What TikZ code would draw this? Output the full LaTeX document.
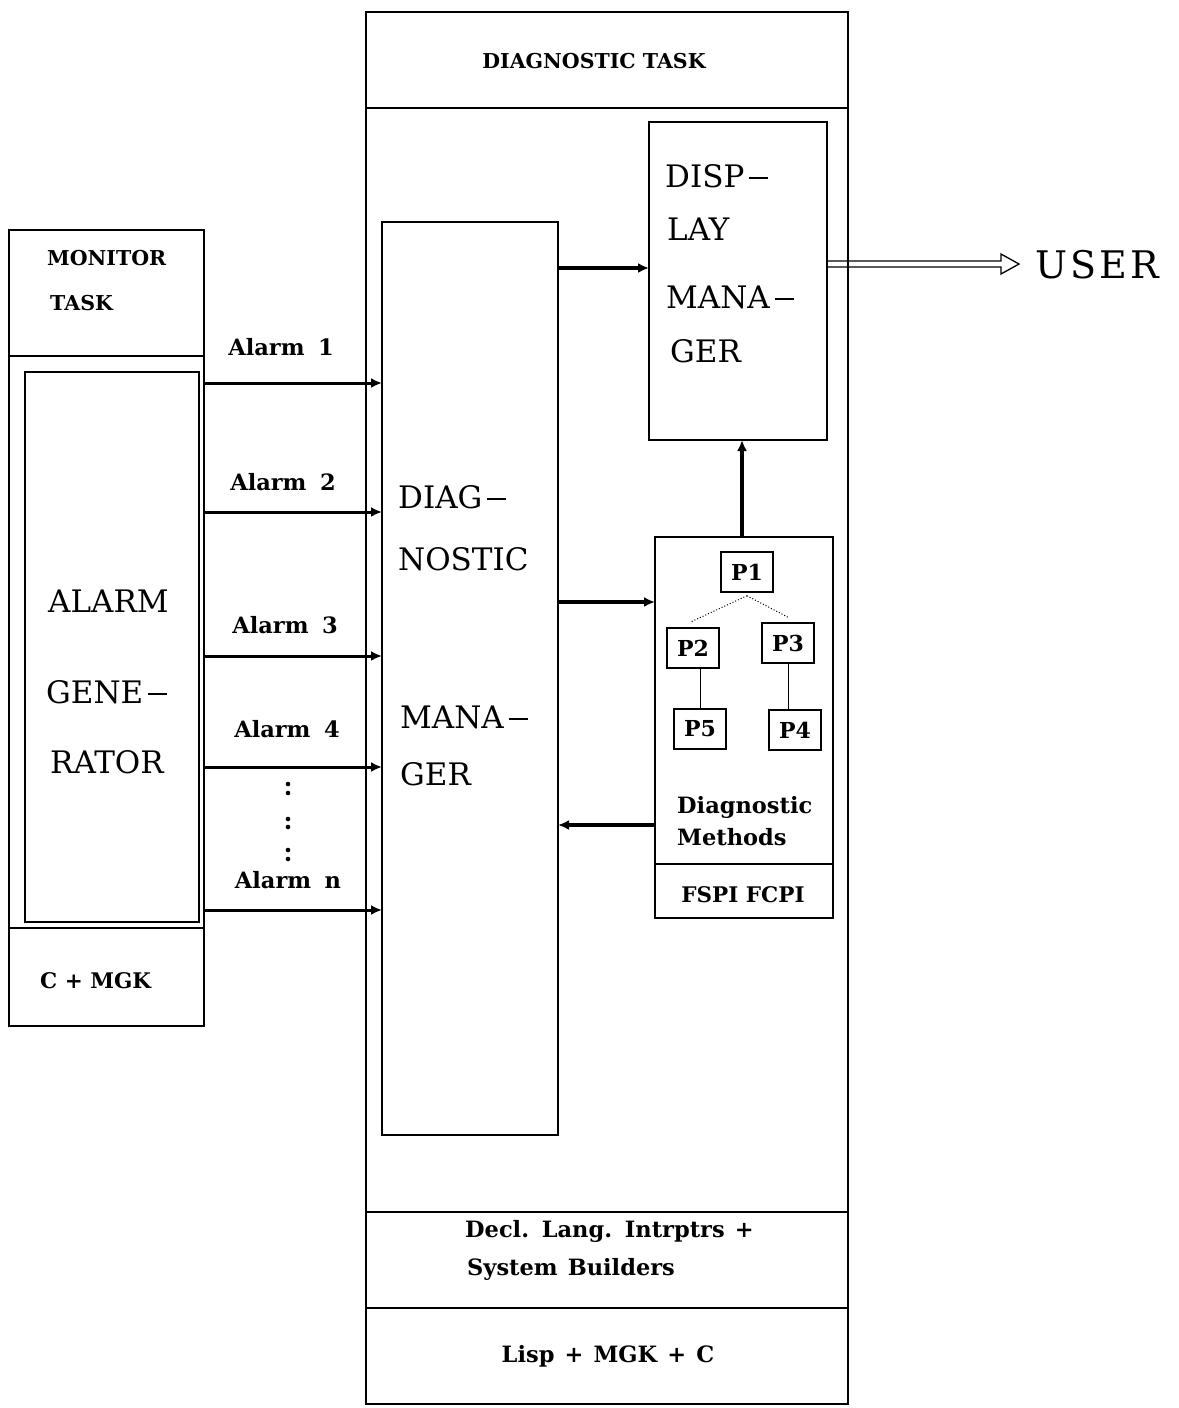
\documentclass[tikz,border=0pt]{standalone}
\usepackage{fontspec}
\setmainfont{DejaVu Serif}
\usetikzlibrary{arrows.meta}
\newcommand{\bdash}{\hspace{5pt}\rule[8.5pt]{19pt}{2pt}}
\newcommand{\smlfont}{\fontsize{22.5}{26}\selectfont\bfseries\spaceskip=0.45em plus 0.1em\relax}
\begin{document}
\begin{tikzpicture}[x=1pt,y=-1pt,
  box/.style={draw, line width=2.5pt, inner sep=0pt, outer sep=0pt, anchor=north west},
  sm/.style={font=\fontsize{20.5}{24}\selectfont\bfseries, inner sep=0pt},
  smc/.style={font=\fontsize{21.5}{24}\selectfont\bfseries, inner sep=0pt},
  sml/.style={font=\smlfont, inner sep=0pt},
  bg/.style={font=\fontsize{31}{36}\selectfont, inner sep=0pt},
  arr/.style={line width=3pt, -{Latex[length=11pt,width=10pt]}},
  pbox/.style={draw, line width=1.5pt, minimum width=52pt, minimum height=40pt, inner sep=0pt, font=\fontsize{22}{24}\selectfont\bfseries},
  thin/.style={line width=1pt}]
\useasboundingbox (0,0) rectangle (1178,1408);
% Diagnostic task column
\node[box, minimum width=482pt, minimum height=96pt]  (dthead) at (366,12) {};
\node[box, minimum width=482pt, minimum height=1104pt] (dtbody) at (366,108) {};
\node[box, minimum width=482pt, minimum height=96pt]  (dtdecl) at (366,1212) {};
\node[box, minimum width=482pt, minimum height=96pt]  (dtlisp) at (366,1308) {};
\node[sm, anchor=base] (dtlab) at (594,68) {DIAGNOSTIC TASK};
\node[sml, anchor=base west] (decl1) at (465,1237) {Decl. Lang. Intrptrs +};
\node[sml, anchor=base west] (decl2) at (467,1275) {System Builders};
\node[sml, anchor=base] (lisp) at (608,1362) {Lisp + MGK + C};
% Monitor task column
\node[box, minimum width=195pt, minimum height=126pt] (mthead) at (9,230) {};
\node[box, minimum width=195pt, minimum height=572pt] (mtbody) at (9,356) {};
\node[box, minimum width=174pt, minimum height=550pt] (agbox) at (25,372) {};
\node[box, minimum width=195pt, minimum height=98pt]  (cmgk) at (9,928) {};
\node[sm, anchor=base west] (mon1) at (47,265) {MONITOR};
\node[sm, anchor=base west] (mon2) at (50,310) {TASK};
\node[smc, anchor=base west] (cmgklab) at (40,988) {C + MGK};
\node[bg, anchor=base west] (ag1) at (48,612) {ALARM};
\node[bg, anchor=base west] (ag2) at (46,703) {GENE\bdash};
\node[bg, anchor=base west] (ag3) at (50,773) {RATOR};
% Diagnostic manager
\node[box, minimum width=176pt, minimum height=913pt] (dm) at (382,222) {};
\node[bg, anchor=base west] (dm1) at (398,508) {DIAG\bdash};
\node[bg, anchor=base west] (dm2) at (398,570) {NOSTIC};
\node[bg, anchor=base west] (dm3) at (400,728) {MANA\bdash};
\node[bg, anchor=base west] (dm4) at (400,785) {GER};
% Display manager
\node[box, minimum width=178pt, minimum height=318pt] (disp) at (649,122) {};
\node[bg, anchor=base west] (dp1) at (665,187) {DISP\bdash};
\node[bg, anchor=base west] (dp2) at (667,240) {LAY};
\node[bg, anchor=base west] (dp3) at (666,308) {MANA\bdash};
\node[bg, anchor=base west] (dp4) at (670,362) {GER};
% Diagnostic methods
\node[box, minimum width=178pt, minimum height=327pt] (meth) at (655,537) {};
\node[box, minimum width=178pt, minimum height=54pt]  (fspi) at (655,864) {};
\node[sml, anchor=base west] (meth1) at (677,813) {Diagnostic};
\node[sml, anchor=base west] (meth2) at (677,845) {Methods};
\node[smc, anchor=base] (fspilab) at (743,902) {FSPI FCPI};
\node[pbox] (P1) at (747,572) {P1};
\node[pbox] (P2) at (693,648) {P2};
\node[pbox] (P3) at (788,643) {P3};
\node[pbox] (P5) at (700,729) {P5};
\node[pbox] (P4) at (795,730) {P4};
\draw[thin, dotted] ([yshift=-3pt]P1.south) -- ([yshift=5pt,xshift=-3pt]P2.north);
\draw[thin, dotted] ([yshift=-3pt]P1.south) -- ([yshift=5pt]P3.north);
\draw[thin] (P5.north |- P2.south) -- (P5.north);
\draw[thin] (P3.south) -- (P3.south |- P4.north);
% Alarm connectors
\foreach \yy/\lab/\lx/\ly in {383/1/281/355, 512/2/283/490, 656/3/285/633, 767/4/287/737, 910/n/288/888}{
  \coordinate (ay\lab) at (0,\yy);
  \draw[arr] (mtbody.east |- ay\lab) -- (dm.west |- ay\lab);
  \node[sml, anchor=base] (al\lab) at (\lx,\ly) {Alarm\hspace{0.6em}\lab};
}
\foreach \yy in {784,793,819,827,850,859}{ \fill (288,\yy) circle (2.3pt); }
% Internal connectors
\coordinate (c1) at (0,268);
\coordinate (c2) at (0,602);
\coordinate (c3) at (0,825);
\coordinate (c4) at (742,0);
\draw[arr, line width=3.5pt] (dm.east |- c1) -- (disp.west |- c1);
\draw[arr, line width=3.5pt] (dm.east |- c2) -- (meth.west |- c2);
\draw[arr, line width=3.5pt] (meth.west |- c3) -- (dm.east |- c3);
\draw[arr, line width=4pt] (meth.north -| c4) -- (disp.south -| c4);
% Output to user
\coordinate (ut) at (1019,264);
\node[font=\fontsize{38}{42}\selectfont\addfontfeature{LetterSpace=8}, anchor=base west, inner sep=0pt] (user) at (1035,278) {USER};
\draw[line width=1.3pt, line join=miter] (disp.east |- 0,261) -- (1001,261) -- (1001,254) -- (ut) -- (1001,274) -- (1001,267) -- (disp.east |- 0,267);
\end{tikzpicture}
\end{document}
